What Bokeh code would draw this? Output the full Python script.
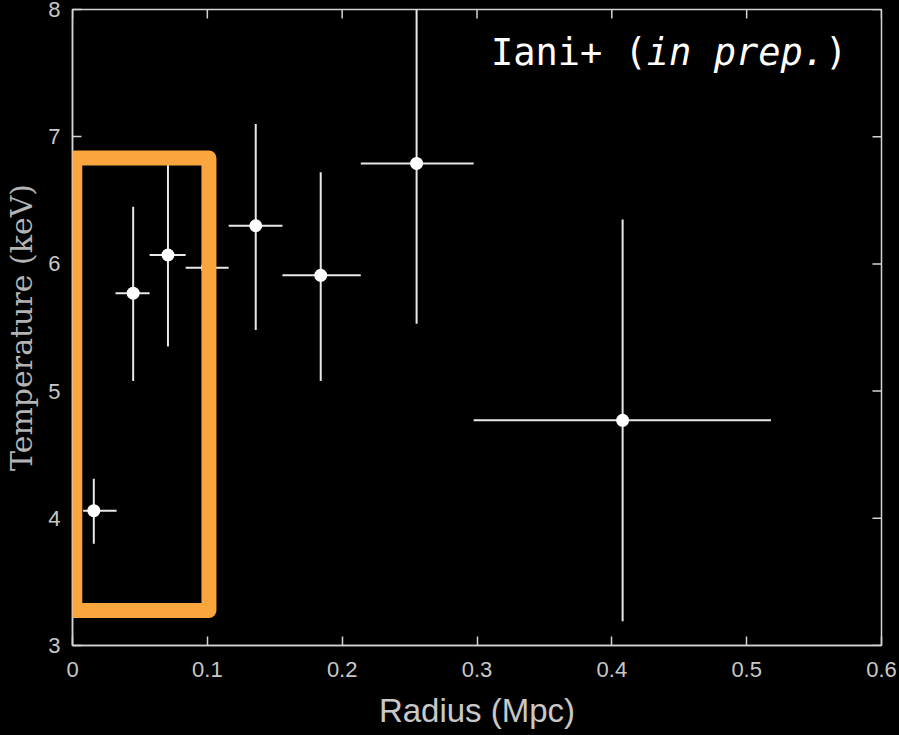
import math
from bokeh.plotting import figure
from bokeh.models import (ColumnDataSource, Range1d, Label, FixedTicker,
                          BoxAnnotation, GlobalInlineStyleSheet)
from bokeh.embed import file_html
from bokeh.resources import INLINE

# ---- data ----
radius = [0.0158, 0.045, 0.0708, 0.100, 0.1359, 0.1841, 0.2552, 0.408]
r_lo   = [0.0079, 0.0319, 0.0572, 0.0839, 0.1158, 0.1557, 0.2138, 0.2975]
r_hi   = [0.0327, 0.0572, 0.0839, 0.1158, 0.1557, 0.2138, 0.2975, 0.518]
temp   = [4.06, 5.77, 6.07, 5.97, 6.30, 5.91, 6.79, 4.77]
t_lo   = [3.80, 5.08, 5.35, 5.50, 5.48, 5.08, 5.53, 3.19]
t_hi   = [4.31, 6.45, 6.80, 6.50, 7.10, 6.72, 8.20, 6.35]

x_ticks = [0, 0.1, 0.2, 0.3, 0.4, 0.5, 0.6]
y_ticks = [3, 4, 5, 6, 7, 8]
x_min, x_max = 0, 0.6
y_min, y_max = 3, 8

# highlighted region (inner points)
hl_left, hl_right, hl_bottom, hl_top = 0.0017, 0.1012, 3.275, 6.833

src = ColumnDataSource(dict(radius=radius, r_lo=r_lo, r_hi=r_hi,
                            temp=temp, t_lo=t_lo, t_hi=t_hi))

AX = "#d4d4d4"
TICK_TXT = "#c8c8c8"

p = figure(width=899, height=735, x_range=Range1d(x_min, x_max), y_range=Range1d(y_min, y_max),
           output_backend="svg", toolbar_location=None,
           min_border_left=72, min_border_right=18, min_border_top=9, min_border_bottom=90,
           background_fill_color="black", border_fill_color="black",
           outline_line_color=AX, outline_line_width=1.5)
p.grid.visible = False

for ax in (p.xaxis[0], p.yaxis[0]):
    ax.axis_line_color = AX
    ax.axis_line_width = 1.5
    ax.major_tick_line_color = AX
    ax.major_tick_line_width = 1.5
    ax.major_tick_in = 9
    ax.major_tick_out = 0
    ax.minor_tick_line_color = None
    ax.major_label_text_color = TICK_TXT
    ax.major_label_text_font = "Liberation Sans"
    ax.major_label_text_font_size = "22px"

p.xaxis.ticker = FixedTicker(ticks=x_ticks)
p.yaxis.ticker = FixedTicker(ticks=y_ticks)
p.xaxis.major_label_overrides = {0: "0"}
p.xaxis.major_label_standoff = 16
p.yaxis.major_label_standoff = 12

p.xaxis.axis_label = "Radius (Mpc)"
p.xaxis.axis_label_text_font = "Liberation Sans"
p.xaxis.axis_label_text_font_style = "normal"
p.xaxis.axis_label_text_font_size = "33px"
p.xaxis.axis_label_text_color = TICK_TXT
p.xaxis.axis_label_standoff = 12

p.yaxis.axis_label = "Temperature (keV)"
p.yaxis.axis_label_text_font = "DejaVu Serif"
p.yaxis.axis_label_text_font_style = "normal"
p.yaxis.axis_label_text_font_size = "30px"
p.yaxis.axis_label_text_color = "#b4b4b4"
p.yaxis.axis_label_standoff = 6

# mirrored inward ticks on top and right edges (half of each dash is clipped by the frame)
p.scatter(x=x_ticks, y=[y_max] * len(x_ticks), marker="dash", size=18, angle=math.pi / 2,
          line_color=AX, line_width=1.5)
p.scatter(x=[x_max] * len(y_ticks), y=y_ticks, marker="dash", size=18, angle=0,
          line_color=AX, line_width=1.5)

# error bars
p.segment(x0="r_lo", y0="temp", x1="r_hi", y1="temp", source=src,
          line_color="#e8e8e8", line_width=2)
p.segment(x0="radius", y0="t_lo", x1="radius", y1="t_hi", source=src,
          line_color="#e8e8e8", line_width=2)
p.scatter("radius", "temp", source=src, size=13, fill_color="white", line_color=None)

# orange highlight box
p.add_layout(BoxAnnotation(left=hl_left, right=hl_right, bottom=hl_bottom, top=hl_top,
                           fill_alpha=0, line_color="#FAA53D", line_width=15,
                           line_join="round", line_alpha=1, level="overlay"))

# annotation text
FSN = 37
ADV = 0.602 * FSN
lx, ly = 0.3103, 7.66
parts = [("Iani+ (", "normal", 0), ("in prep.", "italic", 7), (")", "normal", 15)]
for txt, style, n in parts:
    p.add_layout(Label(x=lx, y=ly, text=txt, x_offset=n * ADV,
                       text_font="DejaVu Sans Mono", text_font_style=style,
                       text_font_size=f"{FSN}px", text_color="white",
                       text_baseline="alphabetic", text_align="left"))

p.stylesheets = [GlobalInlineStyleSheet(css="html, body { background: black; }")]

open("out.html", "w").write(file_html(p, INLINE))
